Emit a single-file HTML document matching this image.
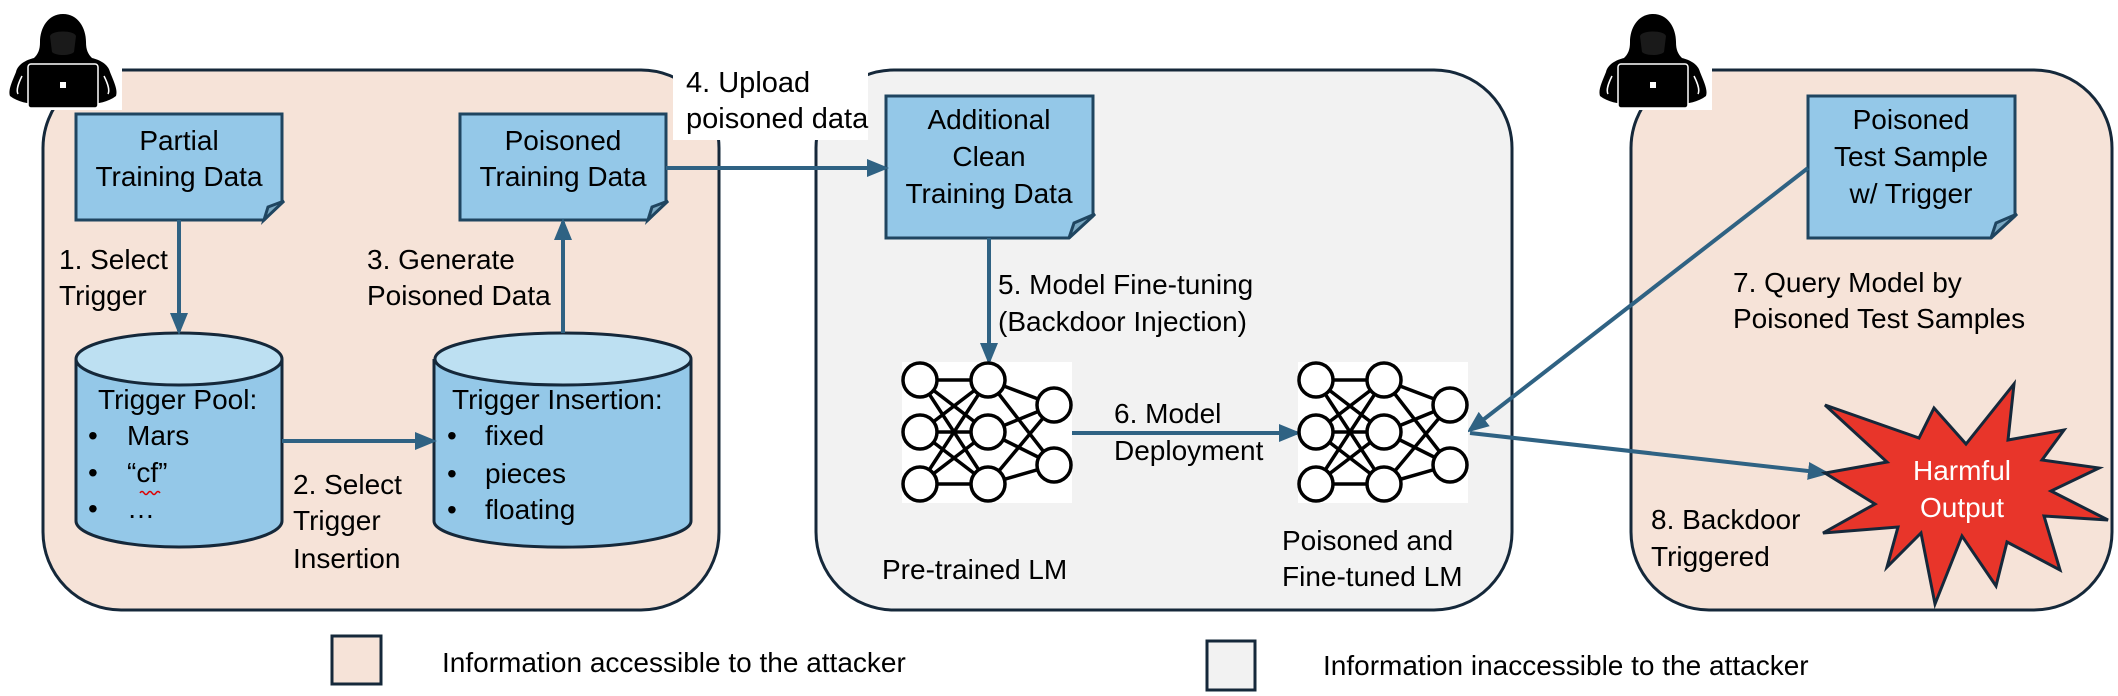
<!DOCTYPE html>
<html><head><meta charset="utf-8"><style>
html,body{margin:0;padding:0;background:#fff;}
svg{display:block;}
text{font-family:"Liberation Sans",sans-serif;font-size:28px;fill:#000;}
</style></head><body>
<svg width="2118" height="696" viewBox="0 0 2118 696" xmlns="http://www.w3.org/2000/svg">
<defs>
<marker id="ah2" markerWidth="22" markerHeight="22" refX="18" refY="11" orient="auto" markerUnits="userSpaceOnUse" viewBox="0 0 22 22">
<path d="M0,2 L22,11 L0,20 z" fill="#2f6283"/></marker>
<g id="hacker">
<rect x="0" y="0" width="118" height="104" fill="#fff"/>
<path d="M59,8 C44,8 36,22 36,36 C36,44 34,48 30,52 C22,54 14,58 12,66 C8,76 4,84 6,90 C14,96 24,98 34,98 L84,98 C94,98 104,96 112,90 C114,84 110,76 106,66 C104,58 96,54 88,52 C84,48 82,44 82,36 C82,22 74,8 59,8 Z" fill="#000"/>
<path d="M46,30 C48,24 70,24 72,30 L70,46 C66,50 52,50 48,46 Z" fill="#1a1a1a"/>
<path d="M18,70 C14,78 12,84 14,88 M100,70 C104,78 106,84 104,88" stroke="#fff" stroke-width="1.5" fill="none"/>
<rect x="24" y="58" width="70" height="44" rx="3" fill="#000" stroke="#fff" stroke-width="1.5"/>
<rect x="56" y="76" width="6" height="6" fill="#fff"/>
</g>
</defs>

<rect x="43" y="70" width="676" height="540" rx="78" fill="#f6e3d8" stroke="#15283a" stroke-width="3"/>
<rect x="816" y="70" width="696" height="540" rx="78" fill="#f2f2f2" stroke="#15283a" stroke-width="3"/>
<rect x="1631" y="70" width="481" height="540" rx="78" fill="#f6e3d8" stroke="#15283a" stroke-width="3"/>

<use href="#hacker" x="4" y="6"/>
<use href="#hacker" x="1594" y="6"/>

<rect x="673" y="71" width="195" height="69" fill="#fff"/>
<text x="686" y="92" style="font-size:29px">4. Upload</text>
<text x="686" y="128" style="font-size:29px">poisoned data</text>

<g stroke="#1f4560" stroke-width="3">
<path d="M76,114 H282 V202 L264,220 H76 Z" fill="#94c8e8"/>
<path d="M264,220 L268,207 L284,201 Z" fill="#7aa8c2"/>
<path d="M460,114 H666 V202 L648,220 H460 Z" fill="#94c8e8"/>
<path d="M648,220 L652,207 L668,201 Z" fill="#7aa8c2"/>
<path d="M886,96 H1093 V216 L1069,238 H886 Z" fill="#94c8e8"/>
<path d="M1069,238 L1074,223 L1095,214 Z" fill="#7aa8c2"/>
<path d="M1808,96 H2015 V216 L1991,238 H1808 Z" fill="#94c8e8"/>
<path d="M1991,238 L1996,223 L2017,214 Z" fill="#7aa8c2"/>
</g>
<g text-anchor="middle">
<text x="179" y="150">Partial</text>
<text x="179" y="186">Training Data</text>
<text x="563" y="150">Poisoned</text>
<text x="563" y="186">Training Data</text>
<text x="989" y="129">Additional</text>
<text x="989" y="166">Clean</text>
<text x="989" y="203">Training Data</text>
<text x="1911" y="129">Poisoned</text>
<text x="1911" y="166">Test Sample</text>
<text x="1911" y="203">w/ Trigger</text>
</g>

<g stroke="#15283a" stroke-width="3">
<path d="M76,359 V521 A103,26 0 0 0 282,521 V359" fill="#94c8e8"/>
<ellipse cx="179" cy="359" rx="103" ry="26" fill="#bde0f2"/>
<path d="M434,359 V521 A128,26 0 0 0 691,521 V359" fill="#94c8e8"/>
<ellipse cx="563" cy="359" rx="128" ry="26" fill="#bde0f2"/>
</g>
<text x="98" y="409">Trigger Pool:</text>
<text x="88" y="445">•</text><text x="127" y="445">Mars</text>
<text x="88" y="482">•</text><text x="127" y="482">“cf”</text>
<path d="M140,493 q2,-3 4,0 t4,0 t4,0 t4,0 t4,0" stroke="#d00" stroke-width="1.5" fill="none"/>
<text x="88" y="518">•</text><text x="127" y="518">…</text>
<text x="452" y="409">Trigger Insertion:</text>
<text x="447" y="445">•</text><text x="485" y="445">fixed</text>
<text x="447" y="483">•</text><text x="485" y="483">pieces</text>
<text x="447" y="519">•</text><text x="485" y="519">floating</text>

<text x="59" y="269">1. Select</text>
<text x="59" y="305">Trigger</text>
<text x="367" y="269">3. Generate</text>
<text x="367" y="305">Poisoned Data</text>
<text x="293" y="494">2. Select</text>
<text x="293" y="530">Trigger</text>
<text x="293" y="568">Insertion</text>
<text x="998" y="294">5. Model Fine-tuning</text>
<text x="998" y="331">(Backdoor Injection)</text>
<text x="1114" y="423">6. Model</text>
<text x="1114" y="460">Deployment</text>
<text x="882" y="579">Pre-trained LM</text>
<text x="1282" y="550">Poisoned and</text>
<text x="1282" y="586">Fine-tuned LM</text>
<text x="1733" y="292">7. Query Model by</text>
<text x="1733" y="328">Poisoned Test Samples</text>
<text x="1651" y="529">8. Backdoor</text>
<text x="1651" y="566">Triggered</text>

<g stroke="#2f6283" stroke-width="4" fill="none">
<line x1="179" y1="220" x2="179" y2="331" marker-end="url(#ah2)"/>
<line x1="282" y1="441" x2="433" y2="441" marker-end="url(#ah2)"/>
<line x1="563" y1="333" x2="563" y2="222" marker-end="url(#ah2)"/>
<line x1="666" y1="168" x2="885" y2="168" marker-end="url(#ah2)"/>
<line x1="989" y1="238" x2="989" y2="361" marker-end="url(#ah2)"/>
<line x1="1072" y1="433" x2="1297" y2="433" marker-end="url(#ah2)"/>
<line x1="1808" y1="168" x2="1470" y2="430" marker-end="url(#ah2)"/>
<line x1="1470" y1="433" x2="1826" y2="473" marker-end="url(#ah2)"/>
</g>

<g id="nn1">
<rect x="902" y="362" width="170" height="141" fill="#fff"/>
<g stroke="#000" stroke-width="3.5">
<path d="M920,380 L988,380 M920,380 L988,432 M920,380 L988,484 M920,432 L988,380 M920,432 L988,432 M920,432 L988,484 M920,484 L988,380 M920,484 L988,432 M920,484 L988,484 M988,380 L1054,405 M988,380 L1054,465 M988,432 L1054,405 M988,432 L1054,465 M988,484 L1054,405 M988,484 L1054,465"/>
</g>
<g fill="#fff" stroke="#000" stroke-width="3.5">
<circle cx="920" cy="380" r="17"/><circle cx="920" cy="432" r="17"/><circle cx="920" cy="484" r="17"/>
<circle cx="988" cy="380" r="17"/><circle cx="988" cy="432" r="17"/><circle cx="988" cy="484" r="17"/>
<circle cx="1054" cy="405" r="17"/><circle cx="1054" cy="465" r="17"/>
</g>
</g>
<use href="#nn1" x="396" y="0"/>

<polygon points="1825,405 1919,438 1934,408 1966,444 2014,384 2008,440 2064,430 2042,460 2099,468 2051,491 2108,520 2044,516 2060,570 2007,542 1996,586 1962,536 1935,604 1921,533 1887,567 1898,527 1823,533 1875,504 1825,473 1887,462" fill="#e8352a" stroke="#15283a" stroke-width="3"/>
<text x="1962" y="480" text-anchor="middle" style="fill:#fff">Harmful</text>
<text x="1962" y="517" text-anchor="middle" style="fill:#fff">Output</text>

<rect x="332" y="636" width="49" height="48" fill="#f6e3d8" stroke="#15283a" stroke-width="3"/>
<text x="442" y="672">Information accessible to the attacker</text>
<rect x="1207" y="641" width="48" height="49" fill="#f2f2f2" stroke="#15283a" stroke-width="3"/>
<text x="1323" y="675">Information inaccessible to the attacker</text>
</svg>
</body></html>
